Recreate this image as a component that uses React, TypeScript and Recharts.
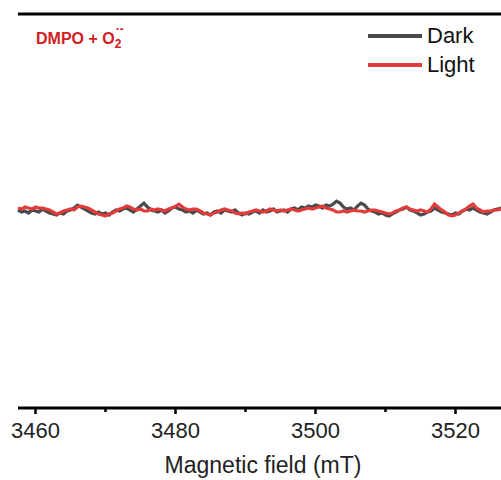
import React from "react"
import { LineChart, Line, XAxis, YAxis, ReferenceLine } from "recharts"

// magnetic field grid: 3457.5 mT, step 0.5 mT
const fieldStart = 3457.5
const fieldStep = 0.5

const darkSignal = [
  1, -1, 0, -2, 1, 0, -1, 2, 0, -2, -3, -4, -2, -3, 0, 1, 3, 6, 4, 2,
  0, -2, -3, -1, -3, -2, -4, -1, 1, 0, 2, 3, 1, -1, 2, 5, 8, 4, 1, 0,
  -1, 1, -2, 0, 3, 4, 2, 1, -1, 0, -2, 1, -1, -3, -2, -4, -1, 0, -2, 1,
  0, -1, 1, -2, -4, -2, -3, -1, 0, -2, 1, -1, 0, 2, -1, 0, 1, -1, 2, 3,
  1, 4, 3, 5, 4, 6, 5, 3, 6, 5, 7, 10, 8, 4, 2, 3, 1, 5, 8, 6,
  2, 0, -1, -3, -2, -4, -5, -3, -1, 1, 2, 4, 1, 0, -2, -4, -3, -1, 0, 3,
  1, -1, -2, -3, -4, -2, -3, 0, 2, 1, 3, 1, -1, -2, -3, -1, 1, 2, 3, 1,
  0,
]

const lightSignal = [
  3, 2, 4, 3, 2, 4, 3, 3, 2, 1, -1, -3, -2, 0, 1, 2, 1, 4, 5, 4,
  3, 1, -1, -3, -4, -5, -3, -2, 0, 2, 3, 5, 4, 2, 1, 2, 0, 0, 2, 1,
  2, 1, 0, 2, 3, 5, 7, 4, 2, 1, 2, 2, 0, -2, -3, -4, -2, -1, 1, 2,
  1, 0, -2, -3, -2, -3, -1, 0, 1, 0, -1, 0, 2, 1, 0, 1, 0, 1, 2, 1,
  0, 1, 2, 3, 2, 3, 4, 5, 3, 2, 1, -1, -1, 0, -1, 0, 1, 0, 0, -1,
  0, 1, 1, 0, -1, -2, -3, -2, 0, 1, 3, 4, 2, 1, 0, 1, 0, -1, 2, 7,
  4, 1, -1, -4, -5, -4, -2, 0, 2, 5, 7, 3, 1, -1, 0, 0, 1, 1, 2, 1,
  0,
]

const xTicks = [3460, 3470, 3480, 3490, 3500, 3510, 3520]
const majorTicks = [3460, 3480, 3500, 3520]

const legendItems = [
  { name: "Dark", color: "#4a4a4a" },
  { name: "Light", color: "#e23b3b" },
]

const data = darkSignal.map((dark, i) => ({
  field: fieldStart + i * fieldStep,
  dark,
  light: lightSignal[i],
}))

const font = "'Liberation Sans', Arial, sans-serif"

function FieldTick(props: any) {
  const { x, y, payload } = props
  const major = majorTicks.includes(payload.value)
  return (
    <g>
      <line x1={x} x2={x} y1={y} y2={y + (major ? 6 : 4)} stroke="#000" strokeWidth={2.5} />
      {major && (
        <text x={x} y={y + 30} textAnchor="middle" fontSize={22} fill="#222" fontFamily={font}>
          {payload.value}
        </text>
      )}
    </g>
  )
}

export default function App() {
  return (
    <div
      style={{
        position: "fixed",
        left: 0,
        top: 0,
        width: 501,
        height: 480,
        overflow: "hidden",
        background: "#fff",
      }}
    >
      <LineChart width={512} height={480} data={data} margin={{ top: 14, right: 4, left: 18, bottom: 0 }}>
        <XAxis
          dataKey="field"
          type="number"
          domain={[3457.5, 3527.5]}
          ticks={xTicks}
          interval={0}
          height={72}
          tickSize={0}
          tickMargin={0}
          tickLine={false}
          tick={<FieldTick />}
          axisLine={{ stroke: "#000", strokeWidth: 3 }}
          label={{
            value: "Magnetic field (mT)",
            position: "insideBottom",
            offset: 7,
            fontSize: 23,
            fill: "#222",
            fontFamily: font,
          }}
        />
        <YAxis
          type="number"
          domain={[-200, 200]}
          width={0}
          tick={false}
          tickLine={false}
          axisLine={{ stroke: "#000", strokeWidth: 3 }}
        />
        <ReferenceLine y={200} stroke="#000" strokeWidth={3} />
        <Line
          type="linear"
          dataKey="dark"
          name="Dark"
          stroke="#4a4a4a"
          strokeWidth={3.2}
          dot={false}
          isAnimationActive={false}
        />
        <Line
          type="linear"
          dataKey="light"
          name="Light"
          stroke="#e23b3b"
          strokeWidth={3.2}
          dot={false}
          isAnimationActive={false}
        />
      </LineChart>

      {/* legend */}
      <div style={{ position: "absolute", left: 368, top: 21, fontFamily: font }}>
        {legendItems.map((it) => (
          <div key={it.name} style={{ display: "flex", alignItems: "center", height: 29 }}>
            <div style={{ width: 54, height: 4, background: it.color, marginRight: 5 }} />
            <span style={{ fontSize: 22, color: "#111" }}>{it.name}</span>
          </div>
        ))}
      </div>

      <div
        style={{
          position: "absolute",
          left: 36,
          top: 30,
          fontFamily: font,
          fontWeight: "bold",
          fontSize: 16,
          color: "#d0201f",
          whiteSpace: "nowrap",
        }}
      >
        DMPO + O
        <span style={{ position: "relative", display: "inline-block", width: 9 }}>
          <span style={{ position: "absolute", left: 0, top: -6, fontSize: 12, lineHeight: "12px" }}>2</span>
          <span style={{ position: "absolute", left: 1, top: -21, fontSize: 12, lineHeight: "12px" }}>·-</span>
        </span>
      </div>
    </div>
  )
}
